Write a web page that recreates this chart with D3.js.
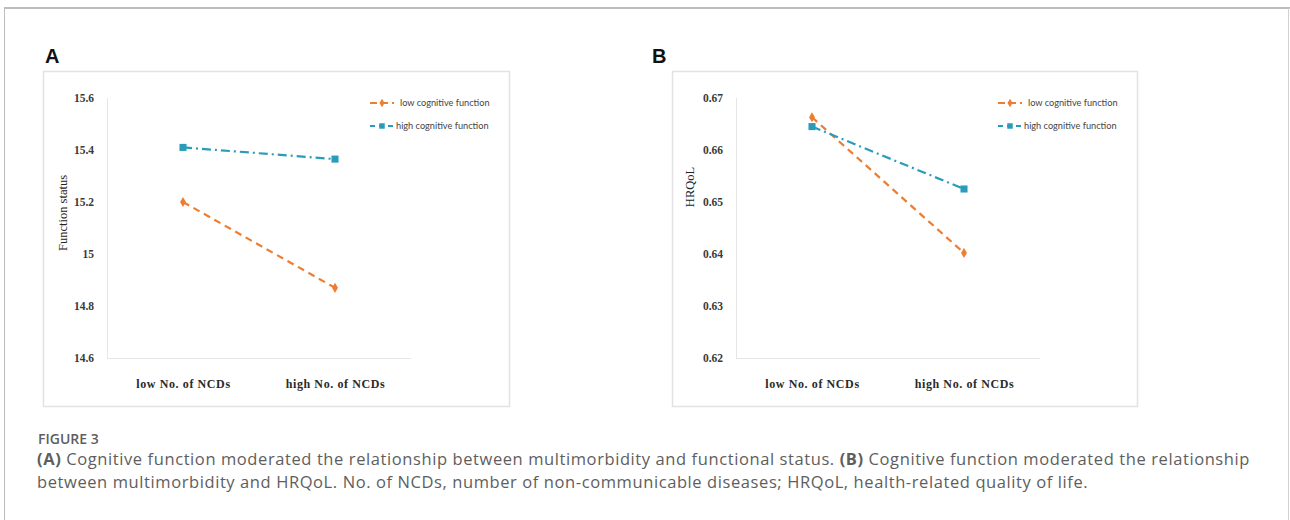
<!DOCTYPE html>
<html>
<head>
<meta charset="utf-8">
<script src="https://cdn.jsdelivr.net/npm/d3@7"></script>
<style>
  html, body { margin: 0; padding: 0; background: #fff; }
  svg { display: block; }
</style>
</head>
<body>
<svg width="1290" height="520"></svg>
<script>
(function(d3) {
    "use strict";

    // data
    var categories = ["low No. of NCDs", "high No. of NCDs"],
        seriesNames = ["low cognitive function", "high cognitive function"],

        functionLow = [15.20, 14.87],
        functionHigh = [15.41, 15.365],
        functionTicks = [14.6, 14.8, 15, 15.2, 15.4, 15.6],

        hrqolLow = [0.6663, 0.6402],
        hrqolHigh = [0.6645, 0.6525],
        hrqolTicks = [0.62, 0.63, 0.64, 0.65, 0.66, 0.67],

        colors = ["#ED7D31", "#2A9CBA"],
        dashes = ["7,5", "9,4,2,4"],

        svg = d3.select("svg");

    // outer figure border
    svg.append("line").attr("x1", 4).attr("x2", 1290).attr("y1", 8).attr("y2", 8)
        .attr("stroke", "#bdbdbd").attr("stroke-width", 2);
    svg.append("line").attr("x1", 4.5).attr("x2", 4.5).attr("y1", 8).attr("y2", 520)
        .attr("stroke", "#bdbdbd").attr("stroke-width", 1);
    svg.append("line").attr("x1", 1288.5).attr("x2", 1288.5).attr("y1", 8).attr("y2", 520)
        .attr("stroke", "#d0d0d0").attr("stroke-width", 1);

    var drawPanel = function(p) {
        var g = svg.append("g").attr("transform", "translate(" + p.x0 + ",0)");

        g.append("text").attr("x", p.letterX).attr("y", 63)
            .attr("font-family", "Liberation Sans, Arial, sans-serif")
            .attr("font-weight", "bold").attr("font-size", 20)
            .attr("fill", "#111").text(p.letter);

        g.append("rect").attr("x", p.frame[0] + 0.5).attr("y", 71.5)
            .attr("width", p.frame[1] - p.frame[0]).attr("height", 335)
            .attr("fill", "#fff").attr("stroke", "#e2e2e2").attr("stroke-width", 1.5);

        var x = d3.scalePoint().domain(categories).range([p.axisX, p.axisX + 304]).padding(0.5),
            y = d3.scaleLinear().domain(p.domain).range([358, 98]);

        // axis lines
        g.append("line").attr("x1", p.axisX + 0.5).attr("x2", p.axisX + 0.5)
            .attr("y1", 98).attr("y2", 358).attr("stroke", "#e6e6e6");
        g.append("line").attr("x1", p.axisX).attr("x2", p.axisX + 304)
            .attr("y1", 358.5).attr("y2", 358.5).attr("stroke", "#e6e6e6");

        var yAxis = g.append("g").attr("transform", "translate(" + (p.axisX - 13) + ",0)")
            .call(d3.axisLeft(y).tickValues(p.ticks).tickSize(0).tickPadding(0)
                .tickFormat(function(d) { return p.fmt(d); }));
        yAxis.select(".domain").remove();
        yAxis.selectAll("text")
            .attr("font-family", "Liberation Serif, Times New Roman, serif")
            .attr("font-size", 11.5).attr("font-weight", "bold")
            .attr("fill", "#3a3a3a");

        var xAxis = g.append("g").attr("transform", "translate(0,358)")
            .call(d3.axisBottom(x).tickSize(0).tickPadding(21));
        xAxis.select(".domain").remove();
        xAxis.selectAll("text")
            .attr("font-family", "Liberation Serif, Times New Roman, serif")
            .attr("font-size", 12).attr("font-weight", "bold")
            .attr("letter-spacing", 0.6).attr("fill", "#2a2a2a");

        g.append("text")
            .attr("transform", "translate(" + p.labelX + "," + p.labelY + ") rotate(-90)")
            .attr("text-anchor", "middle")
            .attr("font-family", "Liberation Serif, Times New Roman, serif")
            .attr("font-size", 12.5).attr("fill", "#222")
            .text(p.label);

        var line = d3.line()
            .x(function(d, i) { return x(categories[i]); })
            .y(function(d) { return y(d); });

        [p.low, p.high].forEach(function(vals, k) {
            g.append("path").datum(vals)
                .attr("d", line)
                .attr("fill", "none")
                .attr("stroke", colors[k]).attr("stroke-width", 2.2)
                .attr("stroke-dasharray", dashes[k]);

            g.selectAll(".pt" + k).data(vals).enter()
                .append("path")
                .attr("transform", function(d, i) {
                    return "translate(" + x(categories[i]) + "," + y(d) + ")";
                })
                .attr("d", k === 0 ? d3.symbol(d3.symbolDiamond, 30)() : d3.symbol(d3.symbolSquare, 50)())
                .attr("fill", colors[k]);
        });

        // legend
        var leg = g.selectAll(".leg").data(seriesNames).enter().append("g")
            .attr("transform", function(d, i) {
                return "translate(" + p.legX + "," + (103 + i * 23) + ")";
            });
        leg.append("line").attr("x1", 0).attr("x2", 24)
            .attr("stroke", function(d, i) { return colors[i]; })
            .attr("stroke-width", 2)
            .attr("stroke-dasharray", function(d, i) { return i === 0 ? "7,4" : "5,4"; });
        leg.append("path")
            .attr("transform", "translate(12,0)")
            .attr("d", function(d, i) {
                return i === 0 ? d3.symbol(d3.symbolDiamond, 22)() : d3.symbol(d3.symbolSquare, 30)();
            })
            .attr("fill", function(d, i) { return colors[i]; });
        leg.append("text")
            .attr("x", function(d, i) { return i === 0 ? 30 : 26; })
            .attr("dy", "0.35em")
            .attr("font-family", "Lato, sans-serif")
            .attr("font-size", 9.2).attr("fill", "#444")
            .text(function(d) { return d; });
    };

    drawPanel({
        x0: 0, letter: "A", letterX: 45, frame: [43, 509], axisX: 107,
        domain: [14.6, 15.6], ticks: functionTicks,
        fmt: function(d) { return d3.format("")(+d.toFixed(1)); },
        label: "Function status", labelX: 67, labelY: 213,
        low: functionLow, high: functionHigh, legX: 370
    });

    drawPanel({
        x0: 645, letter: "B", letterX: 7, frame: [27, 492], axisX: 91,
        domain: [0.62, 0.67], ticks: hrqolTicks,
        fmt: function(d) { return d3.format(".2f")(d); },
        label: "HRQoL", labelX: 49, labelY: 187,
        low: hrqolLow, high: hrqolHigh, legX: 353
    });

    // caption
    var cap = svg.append("g").attr("font-family", "Open Sans, sans-serif").attr("fill", "#5e5e5e");
    cap.append("text").attr("x", 38).attr("y", 444)
        .attr("font-size", 14).attr("font-weight", 600)
        .text("FIGURE 3");

    var captionLines = [
        [["(A)", true], [" Cognitive function moderated the relationship between multimorbidity and functional status. ", false],
         ["(B)", true], [" Cognitive function moderated the relationship", false]],
        [["between multimorbidity and HRQoL. No. of NCDs, number of non-communicable diseases; HRQoL, health-related quality of life.", false]]
    ];
    var capTexts = captionLines.map(function(parts, i) {
        var t = cap.append("text").attr("x", 37).attr("y", 465 + i * 23).attr("font-size", 16.5);
        parts.forEach(function(s) {
            t.append("tspan").attr("font-weight", s[1] ? 700 : 400).text(s[0]);
        });
        return t;
    });
    // widen letter spacing so the first line spans the same width as in the figure
    var first = capTexts[0],
        n = first.text().length,
        spacing = (1213 - first.node().getComputedTextLength()) / n;
    capTexts.forEach(function(t) { t.attr("letter-spacing", spacing); });

}(d3));
</script>
</body>
</html>
